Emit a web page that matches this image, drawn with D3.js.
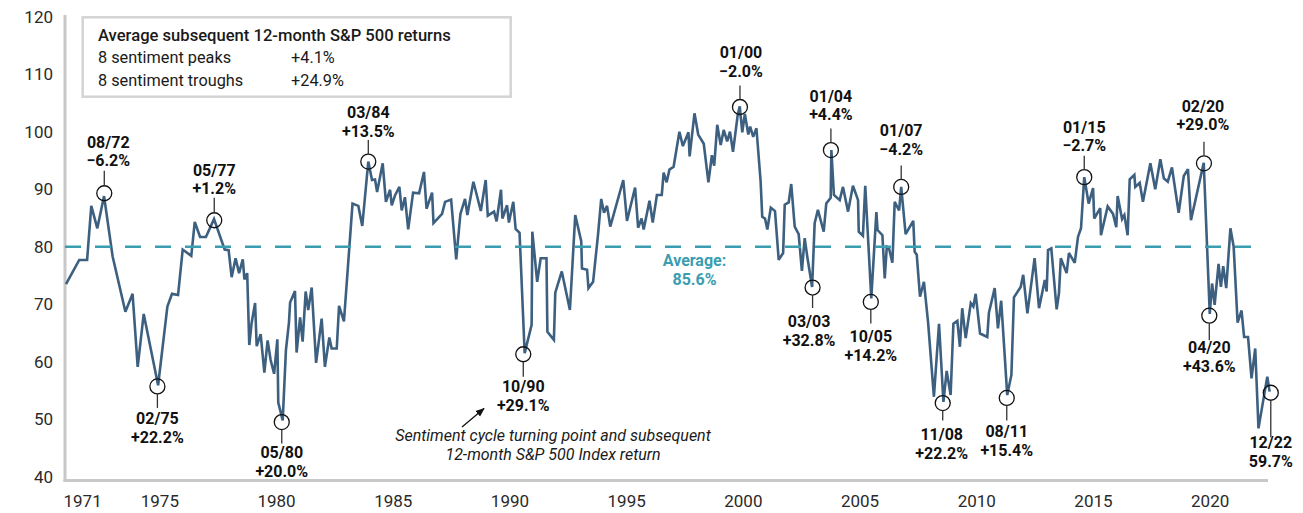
<!DOCTYPE html>
<html><head><meta charset="utf-8">
<script src="https://cdn.jsdelivr.net/npm/d3@7"></script>
<style>
body{margin:0;background:#fff}
svg{display:block}
text{font-family:Roboto,"DejaVu Sans",sans-serif}
</style>
</head><body>
<svg id="chart" width="1303" height="513"></svg>
<script>
// ---------------- DATA ----------------
const dates = [
1971.00,1971.57,1971.91,1972.09,1972.35,1972.64,1973.01,1973.56,1973.87,1974.09,1974.35,1974.97,
1975.37,1975.57,1975.83,1976.03,1976.40,1976.55,1976.78,1977.03,1977.38,1977.84,1978.01,1978.14,
1978.31,1978.46,1978.62,1978.69,1978.81,1978.90,1979.00,1979.15,1979.22,1979.39,1979.55,1979.69,
1979.82,1979.97,1980.11,1980.15,1980.34,1980.48,1980.61,1980.66,1980.87,1980.94,1981.09,1981.20,
1981.33,1981.44,1981.59,1981.78,1982.02,1982.16,1982.35,1982.45,1982.67,1982.77,1982.98,1983.35,
1983.60,1983.77,1984.03,1984.19,1984.32,1984.41,1984.65,1984.79,1984.97,1985.04,1985.18,1985.37,
1985.47,1985.61,1985.75,1985.96,1986.22,1986.43,1986.54,1986.78,1986.84,1987.21,1987.34,1987.60,
1987.82,1988.00,1988.20,1988.30,1988.56,1988.88,1989.09,1989.18,1989.45,1989.56,1989.75,1989.81,
1990.01,1990.09,1990.28,1990.38,1990.55,1990.77,1991.07,1991.10,1991.31,1991.46,1991.71,1991.75,
1992.03,1992.09,1992.37,1992.72,1992.95,1993.21,1993.24,1993.46,1993.52,1993.72,1993.93,1994.07,
1994.19,1994.32,1994.46,1995.02,1995.18,1995.53,1995.66,1995.81,1995.90,1996.15,1996.29,1996.47,
1996.68,1996.76,1996.89,1997.01,1997.19,1997.44,1997.59,1997.83,1997.88,1998.09,1998.25,1998.49,
1998.69,1998.84,1998.94,1999.07,1999.22,1999.35,1999.50,1999.62,1999.75,1999.95,2000.04,2000.15,
2000.26,2000.41,2000.49,2000.62,2000.76,2000.94,2001.01,2001.13,2001.23,2001.38,2001.56,2001.72,
2001.91,2001.98,2002.15,2002.26,2002.41,2002.58,2002.72,2002.84,2002.95,2003.16,2003.27,2003.41,
2003.66,2003.77,2003.96,2003.99,2004.10,2004.35,2004.49,2004.71,2004.92,2005.14,2005.17,2005.35,
2005.45,2005.71,2005.93,2005.98,2006.19,2006.29,2006.38,2006.47,2006.62,2006.72,2006.91,2007.00,
2007.19,2007.52,2007.58,2007.67,2007.81,2007.98,2008.16,2008.41,2008.63,2008.82,2008.96,2009.13,
2009.25,2009.42,2009.53,2009.63,2009.78,2010.00,2010.11,2010.21,2010.40,2010.71,2010.78,2011.03,
2011.17,2011.31,2011.57,2011.75,2011.86,2012.15,2012.26,2012.44,2012.75,2012.94,2013.19,2013.27,
2013.33,2013.47,2013.70,2013.80,2013.88,2014.13,2014.23,2014.48,2014.62,2014.75,2014.89,2015.08,
2015.27,2015.32,2015.58,2015.61,2015.90,2016.13,2016.27,2016.33,2016.52,2016.62,2016.76,2016.85,
2017.05,2017.09,2017.28,2017.42,2017.74,2017.95,2018.17,2018.32,2018.49,2018.67,2018.96,2019.18,
2019.36,2019.49,2020.04,2020.30,2020.40,2020.51,2020.68,2020.78,2020.88,2021.01,2021.19,2021.33,
2021.50,2021.67,2021.78,2021.95,2022.10,2022.26,2022.40,2022.78,2022.88
];
const values = [
73.5,77.7,77.7,87.1,83.2,88.8,78.3,68.7,71.8,59.1,68.3,55.9,
69.6,71.8,71.6,79.5,78.4,84.3,81.7,81.7,84.8,79.5,79.4,74.7,
78.0,75.4,77.8,74.3,75.4,62.9,66.7,70.2,62.7,64.8,58.1,63.7,
60.3,57.9,63.9,52.9,49.8,62.0,66.8,70.3,72.3,61.6,67.7,63.5,
72.2,69.0,72.9,59.8,67.5,59.1,64.2,62.3,62.3,69.7,67.0,87.5,
87.1,83.6,94.8,91.6,91.7,89.5,94.5,87.8,89.9,87.2,88.9,90.4,
86.3,88.6,83.0,89.4,89.3,93.0,86.6,89.4,84.1,85.7,87.8,88.2,
77.8,85.7,88.3,85.5,91.3,86.2,91.6,85.4,86.1,84.4,89.9,84.9,
87.2,84.2,87.8,83.1,82.4,61.5,66.4,82.6,73.9,78.0,78.0,65.2,
63.8,72.0,75.7,69.0,85.5,80.9,76.2,76.0,72.8,73.9,82.0,88.3,
85.9,87.1,83.5,91.6,84.5,90.3,83.3,84.9,83.0,88.0,84.2,89.0,
89.0,92.9,91.2,93.4,93.9,100.0,97.5,99.9,95.7,103.2,99.5,97.9,
91.2,95.9,94.1,101.2,97.7,100.3,98.3,100.0,96.5,102.8,104.4,99.9,
103.1,99.5,100.9,99.1,100.6,91.4,85.2,84.9,83.0,86.8,86.2,77.7,
78.9,87.3,87.7,90.9,83.5,82.2,75.8,81.5,78.3,73.0,84.1,86.4,
82.6,87.5,88.5,96.8,89.0,88.1,90.4,86.1,90.6,88.1,82.6,81.9,
90.6,71.0,86.0,82.9,82.0,74.5,80.0,79.8,77.2,87.8,86.3,90.4,
82.2,84.5,79.1,78.6,71.3,73.9,66.8,53.9,66.6,53.0,58.4,54.2,
66.6,67.1,62.6,69.3,64.1,70.2,69.6,71.8,64.9,64.3,68.5,72.8,
65.8,70.6,54.2,57.7,71.2,73.0,75.1,68.4,78.0,69.3,74.2,72.2,
79.4,79.7,69.1,71.9,78.0,75.4,78.9,77.2,81.7,83.2,92.1,87.5,
90.2,84.9,86.7,82.0,87.0,85.7,83.4,88.8,84.8,85.5,82.0,91.7,
92.5,90.4,91.1,87.8,94.5,90.0,95.2,91.9,91.3,93.8,85.9,92.3,
93.5,84.6,94.6,68.3,73.6,69.9,77.0,73.0,76.6,72.8,83.2,80.0,
66.8,68.9,64.3,64.3,57.1,62.3,48.4,57.4,54.8
];

const yTickValues = [40,50,60,70,80,90,100,110,120];
const xTickValues = [1971,1975,1980,1985,1990,1995,2000,2005,2010,2015,2020];

const averageLevel = 80;
const averageText = ["Average:", "85.6%"];

// turning points
const turnDates   = [1972.65,1974.94,1977.39,1980.30,1984.03,1990.71,2000.05,2003.18,2003.97,2005.69,2007.00,2008.79,2011.55,2014.89,2020.05,2020.28,2022.93];
const turnValues  = [89.3,55.7,84.6,49.5,94.8,61.3,104.3,72.9,96.8,70.4,90.4,52.8,53.7,92.1,94.5,68.0,54.6];
const turnLabels  = ["08/72","02/75","05/77","05/80","03/84","10/90","01/00","03/03","01/04","10/05","01/07","11/08","08/11","01/15","02/20","04/20","12/22"];
const turnReturns = ["\u22126.2%","+22.2%","+1.2%","+20.0%","+13.5%","+29.1%","\u22122.0%","+32.8%","+4.4%","+14.2%","\u22124.2%","+22.2%","+15.4%","\u22122.7%","+29.0%","+43.6%","59.7%"];
const turnKinds   = ["peak","trough","peak","trough","peak","trough","peak","trough","peak","trough","peak","trough","trough","peak","peak","trough","trough"];

const legendTitle = "Average subsequent 12-month S&P 500 returns";
const legendRows = ["8 sentiment peaks","8 sentiment troughs"];
const legendValues = ["+4.1%","+24.9%"];
const noteLines = ["Sentiment cycle turning point and subsequent","12-month S&P 500 Index return"];

// ---------------- LAYOUT (styling only) ----------------
const labelGap  = [27,38,26,36,25,38,30,39,30,40,32,37,39,26,33,37,55];
const leaderLen = [15,14,15,14,14,15,14,13,14,14,14,10,15,14,14,17,37];
const labelDx   = [4,0,0,0,0,0,1,-3.5,0,0,0,-1,0,0,-1,0,0];

const lineColor = "#3d6080";
const teal = "#3a9db0";

const svg = d3.select("#chart");
const x = d3.scaleLinear().domain([1971, 2023]).range([66, 66 + 52 * 23.2]);
const y = d3.scaleLinear().domain([40, 120]).range([476.7, 16.7]);

// axes lines
svg.append("line").attr("x1",65).attr("x2",65).attr("y1",15).attr("y2",482)
  .attr("stroke","#c8c8c8").attr("stroke-width",3);
svg.append("line").attr("x1",63.5).attr("x2",1268).attr("y1",480.5).attr("y2",480.5)
  .attr("stroke","#c8c8c8").attr("stroke-width",3);

// y axis labels
const yAxis = d3.axisLeft(y).tickValues(yTickValues).tickSize(0).tickPadding(0).tickFormat(d3.format("d"));
const gy = svg.append("g").attr("transform","translate(53,0)").call(yAxis);
gy.select(".domain").remove();
gy.selectAll("text").attr("font-size",17).attr("fill","#2a2a2a")
  .attr("font-family","Roboto, sans-serif").attr("x",0);

// x axis labels
const xAxis = d3.axisBottom(x).tickValues(xTickValues).tickSize(0).tickPadding(0).tickFormat(d3.format("d"));
const gx = svg.append("g").attr("transform","translate(0,495)").call(xAxis);
gx.select(".domain").remove();
gx.selectAll("text").attr("font-size",17).attr("fill","#2a2a2a")
  .attr("font-family","Roboto, sans-serif").attr("dy","0.71em").attr("y",0)
  .attr("dx", d => (d - 1971) * 0.14);
gx.selectAll(".tick").filter(d => d === xTickValues[0]).select("text")
  .attr("text-anchor","start").attr("x",-3);

// legend box
const lg = svg.append("g");
lg.append("rect").attr("x",82.7).attr("y",17.3).attr("width",428).attr("height",79.4)
  .attr("fill","#fff").attr("stroke","#d4d4d4").attr("stroke-width",2.5);
lg.append("text").attr("x",98).attr("y",40.7).attr("font-size",16.6).attr("font-weight",500)
  .attr("fill","#1a1a1a").text(legendTitle);
legendRows.forEach((r,i) => {
  lg.append("text").attr("x",98).attr("y",63.3 + i*22.7).attr("font-size",16.3)
    .attr("fill","#1a1a1a").text(r);
  lg.append("text").attr("x",291).attr("y",63.3 + i*22.7).attr("font-size",16.3)
    .attr("fill","#1a1a1a").text(legendValues[i]);
});

// data line
const series = dates.map((d,i) => ({date:d, value:values[i]}));
svg.append("path").datum(series)
  .attr("fill","none").attr("stroke",lineColor).attr("stroke-width",2.6)
  .attr("stroke-linejoin","miter").attr("stroke-miterlimit",3)
  .attr("d", d3.line().x(d => x(d.date)).y(d => y(d.value)));

// average dashed line
svg.append("line").attr("x1",65).attr("x2",1265)
  .attr("y1",y(averageLevel)).attr("y2",y(averageLevel))
  .attr("stroke",teal).attr("stroke-width",2.6).attr("stroke-dasharray","16,14");
averageText.forEach((t,i) => {
  svg.append("text").attr("x",694.5).attr("y",266 + i*19).attr("text-anchor","middle")
    .attr("font-size",16).attr("font-weight",700).attr("fill",teal).text(t);
});

// turning points
const tp = svg.append("g");
turnDates.forEach((d,i) => {
  const cx = x(d), cy = y(turnValues[i]);
  const r = 7.5;
  tp.append("circle").attr("cx",cx).attr("cy",cy).attr("r",r)
    .attr("fill","none").attr("stroke","#111").attr("stroke-width",1.3);
  const lx = cx + labelDx[i];
  if (turnKinds[i] === "peak") {
    tp.append("line").attr("x1",cx).attr("x2",cx).attr("y1",cy-r).attr("y2",cy-r-leaderLen[i])
      .attr("stroke","#333").attr("stroke-width",1.3);
    const base = cy - labelGap[i];
    tp.append("text").attr("x",lx).attr("y",base).attr("text-anchor","middle")
      .attr("font-size",16).attr("font-weight",700).attr("fill","#111").text(turnReturns[i]);
    tp.append("text").attr("x",lx).attr("y",base-18.5).attr("text-anchor","middle")
      .attr("font-size",16).attr("font-weight",700).attr("fill","#111").text(turnLabels[i]);
  } else {
    tp.append("line").attr("x1",cx).attr("x2",cx).attr("y1",cy+r).attr("y2",cy+r+leaderLen[i])
      .attr("stroke","#333").attr("stroke-width",1.3);
    const base = cy + labelGap[i];
    tp.append("text").attr("x",lx).attr("y",base).attr("text-anchor","middle")
      .attr("font-size",16).attr("font-weight",700).attr("fill","#111").text(turnLabels[i]);
    tp.append("text").attr("x",lx).attr("y",base+19).attr("text-anchor","middle")
      .attr("font-size",16).attr("font-weight",700).attr("fill","#111").text(turnReturns[i]);
  }
});

// note + arrow
svg.append("defs").append("marker").attr("id","ah").attr("viewBox","0 0 10 10")
  .attr("refX",9).attr("refY",5).attr("markerWidth",7).attr("markerHeight",7)
  .attr("orient","auto").append("path").attr("d","M0,1 L10,5 L0,9 Z").attr("fill","#111");
svg.append("line").attr("x1",462).attr("y1",427).attr("x2",484).attr("y2",408.5)
  .attr("stroke","#111").attr("stroke-width",1.3).attr("marker-end","url(#ah)");
noteLines.forEach((t,i) => {
  svg.append("text").attr("x",553).attr("y",441 + i*18.5).attr("text-anchor","middle")
    .attr("font-size",16).attr("font-style","italic").attr("fill","#1a1a1a").text(t);
});
</script>
</body></html>
